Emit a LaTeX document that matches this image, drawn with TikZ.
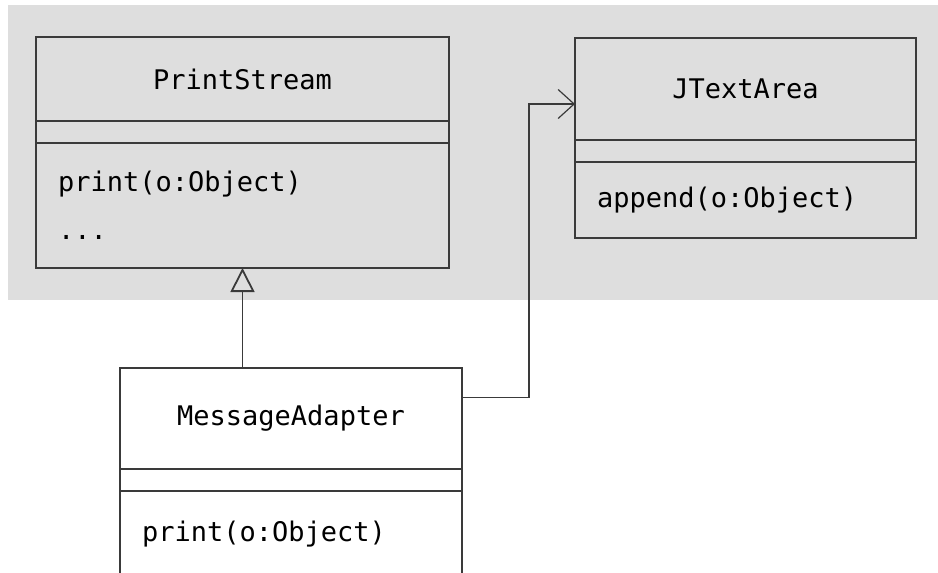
\documentclass[tikz,border=0pt]{standalone}
\usepackage{fontspec}
\setmonofont{DejaVu Sans Mono}
\usetikzlibrary{arrows.meta}

\definecolor{bggray}{HTML}{DEDEDE}
\definecolor{umlline}{HTML}{3A3A3A}

\begin{document}
\begin{tikzpicture}[x=1pt,y=-1pt,
	box/.style={shape=rectangle,draw=umlline,line width=1.8pt,anchor=north west,
		inner sep=0pt,outer sep=0pt,font=\ttfamily\fontsize{27}{48}\selectfont},
	namebox/.style={box,align=center},
	attrbox/.style={box,minimum height=22pt},
	opsbox/.style={box,align=left,inner xsep=22pt},
	inherit/.style={draw=umlline,line width=1.8pt,-{Triangle[open,length=24pt,width=24pt]}},
	assoc/.style={draw=umlline,line width=1.2pt,-{Straight Barb[length=16pt,width=29pt]}}]

	\useasboundingbox (0,0) rectangle (938,573);
	\clip (0,0) rectangle (938,573);
	\fill[bggray] (8,5) rectangle (938,300);

	% PrintStream
	\node[namebox,minimum width=413pt,minimum height=84pt] (psname) at (36,37) {PrintStream};
	\node[attrbox,minimum width=413pt] (psattr) at (psname.south west) {};
	\node[opsbox,text width=369pt,minimum height=125pt] (psops) at (psattr.south west) {print(o:Object)\\...};

	% JTextArea
	\node[namebox,minimum width=341pt,minimum height=102pt] (jtname) at (575,38) {JTextArea};
	\node[attrbox,minimum width=341pt] (jtattr) at (jtname.south west) {};
	\node[opsbox,text width=297pt,minimum height=76pt] (jtops) at (jtattr.south west) {append(o:Object)};

	% MessageAdapter
	\node[namebox,minimum width=342pt,minimum height=101pt] (maname) at (120,368) {MessageAdapter};
	\node[attrbox,minimum width=342pt] (maattr) at (maname.south west) {};
	\node[opsbox,text width=298pt,minimum height=86pt] (maops) at (maattr.south west) {print(o:Object)};

	\draw[inherit] (maname.north -| psops.south) -- (psops.south);
	\draw[assoc] ([yshift=21pt]maname.east) -- ++(67,0) |- ([yshift=-15pt]jtname.west);

\end{tikzpicture}
\end{document}
